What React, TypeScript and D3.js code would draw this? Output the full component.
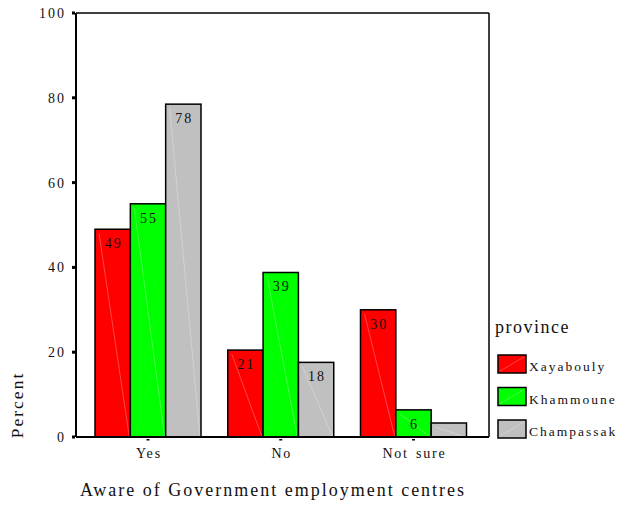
import React from "react";
import * as d3 from "d3";

const categories = ["Yes", "No", "Not sure"];
const provinces = ["Xayabouly", "Khammoune", "Champassak"];
const xayabouly = [49, 20.5, 30];
const khammoune = [55, 38.8, 6.4];
const champassak = [78.5, 17.6, 3.3];
const labelsXay = ["49", "21", "30"];
const labelsKha = ["55", "39", "6"];
const labelsCha = ["78", "18", ""];
const yTicks = [0, 20, 40, 60, 80, 100];
const colors = ["#ff0000", "#00ff00", "#c0c0c0"];

const series = [
  { name: provinces[0], values: xayabouly, labels: labelsXay, color: colors[0] },
  { name: provinces[1], values: khammoune, labels: labelsKha, color: colors[1] },
  { name: provinces[2], values: champassak, labels: labelsCha, color: colors[2] },
];

const FONT = "'Liberation Serif', 'DejaVu Serif', serif";

export default function App() {
  const W = 619, H = 507;
  const left = 76, right = 489, top = 13, bottom = 437;
  const y = d3.scaleLinear().domain([0, 100]).range([bottom, top]);
  const x = d3.scalePoint<string>().domain(categories).range([148, 413.5]);
  const inner = d3.scaleBand<string>().domain(provinces).range([-53, 53]).padding(0);
  const bw = inner.bandwidth();

  return (
    <svg width={W} height={H} style={{ position: "absolute", left: 0, top: 0 }} fontFamily={FONT}>
      <rect width={W} height={H} fill="white" />
      {/* bars */}
      {series.map((s) =>
        categories.map((c, i) => {
          const x0 = (x(c) as number) + (inner(s.name) as number);
          const y0 = y(s.values[i]);
          const h = bottom - y0;
          return (
            <g key={s.name + c}>
              <rect x={x0} y={y0} width={bw} height={h} fill={s.color} stroke="black" strokeWidth={1.5} />
              <line x1={x0 + 4} y1={y0 + 4} x2={x0 + bw - 1} y2={bottom} stroke="white" strokeOpacity={0.35} strokeWidth={0.8} />
              {s.labels[i] && (
                <text x={x0 + bw / 2 + 1} y={y0 + 19} textAnchor="middle" fontSize={14} letterSpacing={2} fill="#111">
                  {s.labels[i]}
                </text>
              )}
            </g>
          );
        })
      )}
      {/* frame */}
      <line x1={left} y1={top} x2={right} y2={top} stroke="black" strokeWidth={1.5} />
      <line x1={right} y1={top} x2={right} y2={bottom} stroke="black" strokeWidth={1.5} />
      <line x1={left} y1={bottom} x2={right} y2={bottom} stroke="black" strokeWidth={2} />
      <line x1={left} y1={top} x2={left} y2={bottom} stroke="black" strokeWidth={2} />
      {/* y ticks */}
      {yTicks.map((t) => (
        <g key={t}>
          <rect x={72} y={y(t) - 1.5} width={3} height={3} fill="black" />
          <text x={66} y={y(t) + 5} textAnchor="end" fontSize={14} letterSpacing={2} fill="#111">
            {t}
          </text>
        </g>
      ))}
      {/* x ticks */}
      {categories.map((c) => (
        <g key={c}>
          <rect x={(x(c) as number) - 1.5} y={bottom + 2} width={3} height={1.5} fill="black" />
          <text x={(x(c) as number) + 1} y={bottom + 21} textAnchor="middle" fontSize={14} letterSpacing={1.8} wordSpacing={2} fill="#111">
            {c}
          </text>
        </g>
      ))}
      {/* axis titles */}
      <text x={273} y={496} textAnchor="middle" fontSize={18} letterSpacing={2} fill="#111">
        Aware of Government employment centres
      </text>
      <text transform="translate(23,405) rotate(-90)" textAnchor="middle" fontSize={17.5} letterSpacing={2} fill="#111">
        Percent
      </text>
      {/* legend */}
      <text x={495} y={333} fontSize={18} letterSpacing={1.5} fill="#111">province</text>
      {series.map((s, i) => {
        const ly = 355 + i * 32.5;
        return (
          <g key={s.name}>
            <rect x={498} y={ly} width={28} height={18} fill={s.color} stroke="black" strokeWidth={1.5} />
            <line x1={500} y1={ly + 16} x2={524} y2={ly + 2} stroke="white" strokeOpacity={0.35} strokeWidth={0.8} />
            <text x={529} y={ly + 16} fontSize={13.5} letterSpacing={2} fill="#111">
              {s.name}
            </text>
          </g>
        );
      })}
    </svg>
  );
}
